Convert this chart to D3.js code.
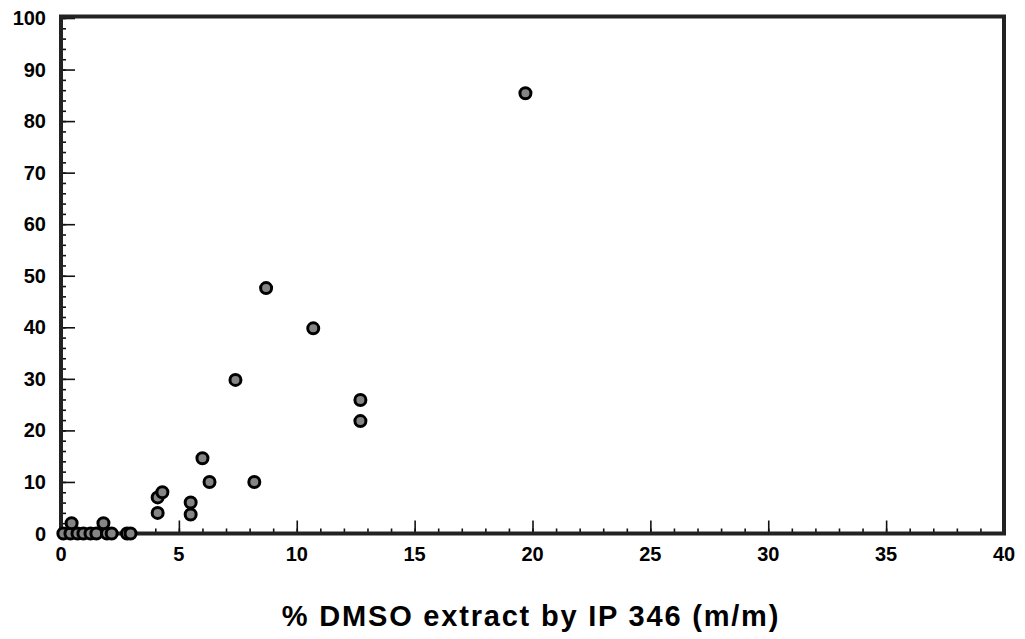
<!DOCTYPE html>
<html>
<head>
<meta charset="utf-8">
<script src="https://cdn.jsdelivr.net/npm/d3@7"></script>
<style>
  body { margin: 0; background: #fff; }
  text { font-family: "Liberation Sans", Arial, sans-serif; fill: #000; }
</style>
</head>
<body>
<div id="chart"></div>
<script>
// data
const dmso = [0.1, 0.4, 0.7, 0.95, 1.25, 1.5, 1.95, 2.15, 2.8, 2.95, 0.45, 1.8,
              4.1, 4.1, 4.3, 5.5, 5.5, 6.0, 6.3, 8.2, 7.4, 8.7, 10.7, 12.7, 12.7, 19.7];
const response = [0, 0, 0, 0, 0, 0, 0, 0, 0, 0, 2, 2,
                  4, 7, 8, 6, 3.7, 14.6, 10, 10, 29.8, 47.6, 39.8, 25.9, 21.8, 85.4];
const xTicks = [0, 5, 10, 15, 20, 25, 30, 35, 40];
const yTicks = [0, 10, 20, 30, 40, 50, 60, 70, 80, 90, 100];

const width = 1025, height = 639;
const margin = {top: 18, right: 21, bottom: 105.5, left: 61};

const svg = d3.select("#chart").append("svg")
    .attr("width", width)
    .attr("height", height);

const x = d3.scaleLinear().domain([0, 40]).range([margin.left, width - margin.right]);
const y = d3.scaleLinear().domain([0, 100]).range([height - margin.bottom, margin.top]);

// minor + major ticks, pointing inward
const xAxis = svg.append("g").attr("transform", "translate(0," + y(0) + ")");
xAxis.call(d3.axisBottom(x).tickValues(d3.range(0, 41, 1)).tickSize(-5).tickFormat(""));
xAxis.append("g").call(d3.axisBottom(x).tickValues(xTicks).tickSize(-13).tickFormat(""));
xAxis.selectAll("line").attr("stroke", "#111").attr("stroke-width", 1.6);
xAxis.selectAll(".domain").remove();

const yAxis = svg.append("g").attr("transform", "translate(" + x(0) + ",0)");
yAxis.call(d3.axisLeft(y).tickValues(d3.range(0, 101, 2)).tickSize(-5).tickFormat(""));
yAxis.append("g").call(d3.axisLeft(y).tickValues(yTicks).tickSize(-14).tickFormat(""));
yAxis.selectAll("line").attr("stroke", "#111").attr("stroke-width", 1.6);
yAxis.selectAll(".domain").remove();

// tick labels
svg.append("g").selectAll("text").data(xTicks).join("text")
    .attr("x", d => x(d))
    .attr("y", y(0) + 27)
    .attr("text-anchor", "middle")
    .attr("font-size", 20)
    .attr("font-weight", "bold")
    .text(d => d);

svg.append("g").selectAll("text").data(yTicks).join("text")
    .attr("x", x(0) - 15)
    .attr("y", d => y(d) + 7)
    .attr("text-anchor", "end")
    .attr("font-size", 20)
    .attr("font-weight", "bold")
    .text(d => d);

// frame
svg.append("rect")
    .attr("x", x(0))
    .attr("y", y(100) - 1.5)
    .attr("width", x(40) - x(0))
    .attr("height", y(0) - y(100) + 1.5)
    .attr("fill", "none")
    .attr("stroke", "#222")
    .attr("stroke-width", 4);

// points
svg.append("g").selectAll("circle").data(dmso).join("circle")
    .attr("cx", d => x(d))
    .attr("cy", (d, i) => y(response[i]))
    .attr("r", 5.5)
    .attr("fill", "#858585")
    .attr("stroke", "#000")
    .attr("stroke-width", 3);

// axis title
svg.append("text")
    .attr("x", 531)
    .attr("y", 626)
    .attr("text-anchor", "middle")
    .attr("font-size", 29)
    .attr("font-weight", "bold")
    .attr("letter-spacing", 1.8)
    .text("% DMSO extract by IP 346 (m/m)");
</script>
</body>
</html>
